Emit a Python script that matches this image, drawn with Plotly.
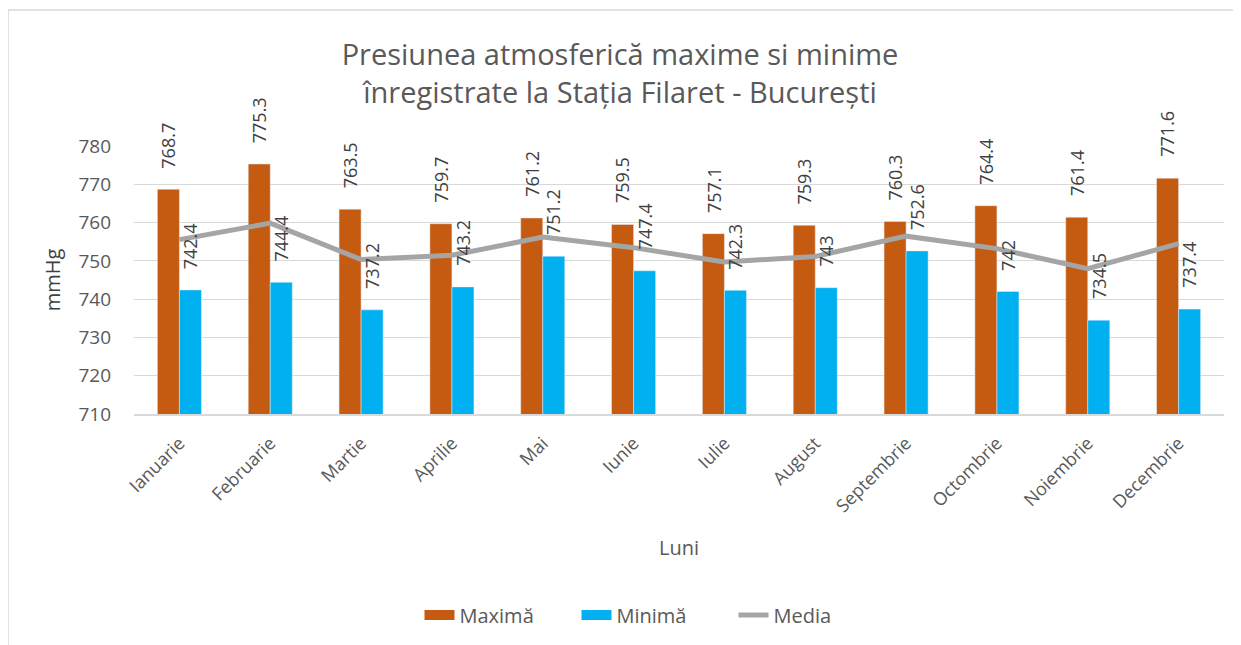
import plotly.graph_objects as go

luni = ["Ianuarie", "Februarie", "Martie", "Aprilie", "Mai", "Iunie",
        "Iulie", "August", "Septembrie", "Octombrie", "Noiembrie", "Decembrie"]
maxima = [768.7, 775.3, 763.5, 759.7, 761.2, 759.5, 757.1, 759.3, 760.3, 764.4, 761.4, 771.6]
minima = [742.4, 744.4, 737.2, 743.2, 751.2, 747.4, 742.3, 743.0, 752.6, 742.0, 734.5, 737.4]
media = [755.55, 759.85, 750.35, 751.45, 756.2, 753.45, 749.7, 751.15, 756.45, 753.2, 747.95, 754.5]
y_ticks = [710, 720, 730, 740, 750, 760, 770, 780]

C_MAX = "#C55A11"
C_MIN = "#00B0F0"
C_MED = "#A5A5A5"
TXT = "#595959"
FONT = "Open Sans"

# page has an 8px body margin, so the figure is a bit smaller than the window
W, H = 1233, 637
L, R, T, B = 126, 17, 138, 231

fig = go.Figure()
fig.add_trace(go.Bar(x=luni, y=maxima, name="Maximă", marker_color=C_MAX,
                     showlegend=False))
fig.add_trace(go.Bar(x=luni, y=minima, name="Minimă", marker_color=C_MIN,
                     showlegend=False))
fig.add_trace(go.Scatter(x=luni, y=media, name="Media", mode="lines",
                         line=dict(color=C_MED, width=5), showlegend=False))
# legend entries with wide swatches
fig.add_trace(go.Scatter(x=[None], y=[None], name="Maximă", mode="lines",
                         line=dict(color=C_MAX, width=12)))
fig.add_trace(go.Scatter(x=[None], y=[None], name="Minimă", mode="lines",
                         line=dict(color=C_MIN, width=12)))
fig.add_trace(go.Scatter(x=[None], y=[None], name="Media", mode="lines",
                         line=dict(color=C_MED, width=5)))

# data labels
for vals, shift in ((maxima, -11), (minima, 11)):
    for xc, v in zip(luni, vals):
        fig.add_annotation(x=xc, y=v, xref="x", yref="y", text=f"{v:g}",
                           showarrow=False, textangle=-90, xanchor="center",
                           yanchor="bottom", xshift=shift, yshift=19,
                           font=dict(family=FONT, size=18, color="#404040"))

pw = W - L - R
ph = H - T - B
# chart frame
fig.add_shape(type="rect", xref="paper", yref="paper",
              x0=(0 - L) / pw, x1=(W + 5 - L) / pw,
              y0=-(H + 5 - T - ph) / ph, y1=1 + (T - 2) / ph,
              line=dict(color="#D9D9D9", width=1.5), fillcolor="rgba(0,0,0,0)",
              layer="below")

fig.update_layout(
    width=W, height=H,
    margin=dict(l=L, r=R, t=T, b=B, pad=0),
    paper_bgcolor="white", plot_bgcolor="white",
    barmode="group", bargap=0.515, bargroupgap=0,
    title=dict(text="Presiunea atmosferică maxime si minime<br>înregistrate la Stația Filaret - București",
               x=(620 - 8) / W, xref="container", xanchor="center",
               y=1 - 57 / H, yref="container", yanchor="top",
               font=dict(family=FONT, size=29, color=TXT)),
    font=dict(family=FONT, color=TXT),
    legend=dict(orientation="h", x=(655 - 8) / W, xref="container", xanchor="center",
                y=30 / H, yref="container", yanchor="middle",
                font=dict(family=FONT, size=20, color=TXT),
                entrywidth=112, entrywidthmode="pixels", traceorder="normal"),
    showlegend=True,
)
fig.update_yaxes(range=[710, 780], tickvals=y_ticks, showgrid=True,
                 gridcolor="#D9D9D9", gridwidth=1, zeroline=False,
                 showline=False, ticks="", ticklabelstandoff=22,
                 tickfont=dict(family=FONT, size=19, color=TXT),
                 title=dict(text="mmHg", standoff=12,
                            font=dict(family=FONT, size=20, color="#404040")))
fig.update_xaxes(showline=True, linecolor="#D9D9D9", linewidth=1.5, ticks="",
                 tickangle=-45, ticklabelstandoff=10,
                 tickfont=dict(family=FONT, size=18, color=TXT),
                 title=dict(text="Luni", standoff=25,
                            font=dict(family=FONT, size=20, color=TXT)))

fig.write_html("out.html")
